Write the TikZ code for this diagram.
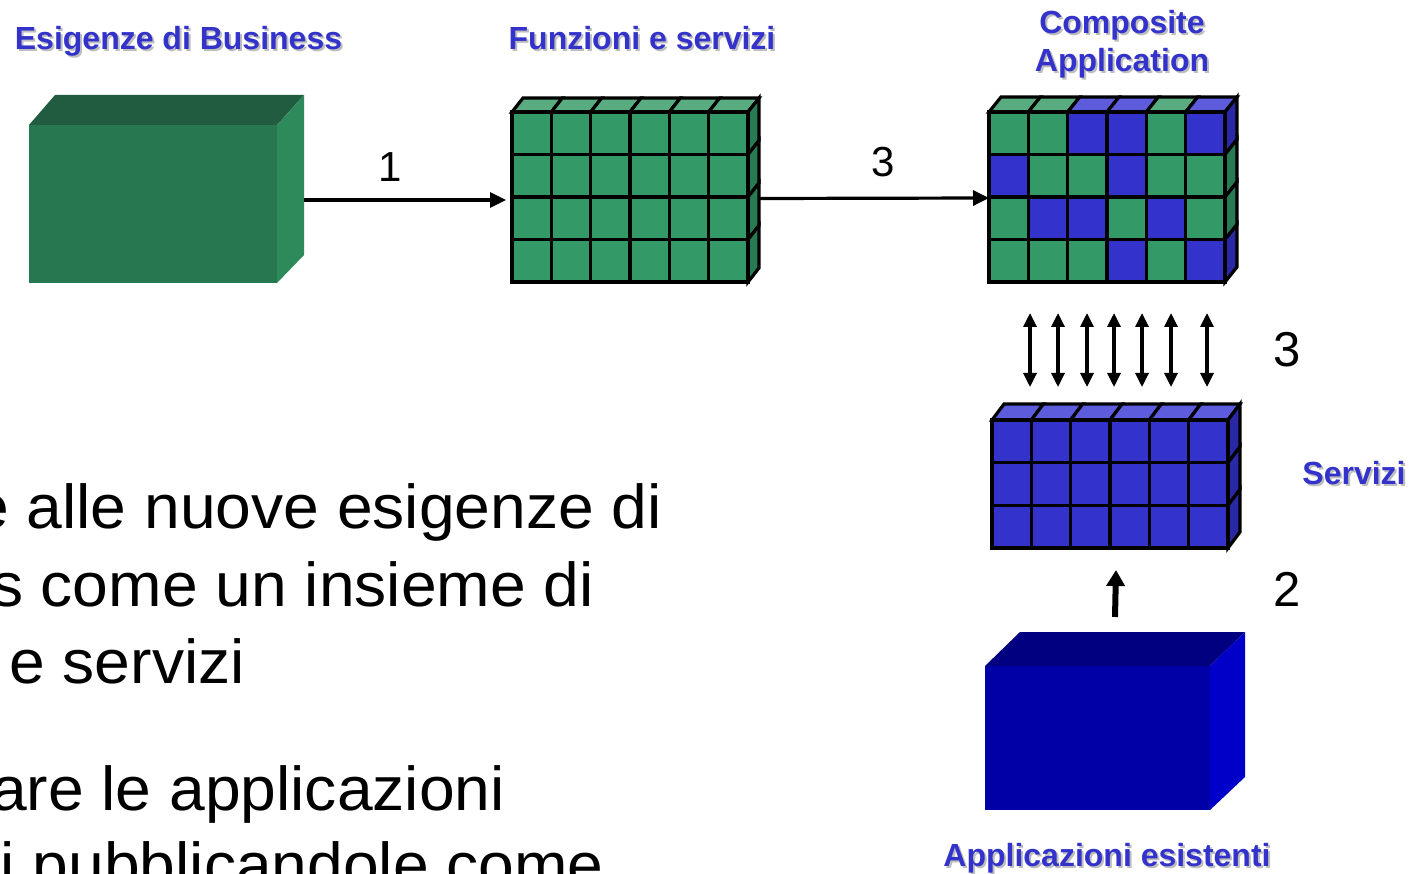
\documentclass[tikz,border=0pt]{standalone}
\usepackage{fontspec}
\setmainfont{Liberation Sans}
\newfontfamily\bodyfont[FakeStretch=1.035]{Liberation Sans}
\usetikzlibrary{arrows.meta}
\definecolor{gfill}{RGB}{51,153,102}
\definecolor{gtop}{RGB}{88,172,128}
\definecolor{gside}{RGB}{41,122,82}
\definecolor{bfill}{RGB}{51,51,204}
\definecolor{btop}{RGB}{92,92,220}
\definecolor{bside}{RGB}{41,41,165}
\definecolor{lbl}{RGB}{51,51,204}
\definecolor{shd}{RGB}{190,190,190}
\definecolor{bizfront}{RGB}{39,119,80}
\definecolor{biztop}{RGB}{33,92,64}
\definecolor{bizside}{RGB}{46,138,91}
\definecolor{appfront}{RGB}{0,0,166}
\definecolor{apptop}{RGB}{0,0,128}
\definecolor{appside}{RGB}{0,0,200}
\tikzset{
  area/.style={inner sep=0pt, outer sep=0pt, draw=none},
  cellline/.style={draw=black, line width=3.2pt, line join=miter},
  lbltxt/.style={inner sep=0pt, anchor=base, text=lbl, font=\fontsize{32}{38}\selectfont\bfseries},
  lblshd/.style={inner sep=0pt, anchor=base, text=shd, font=\fontsize{32}{38}\selectfont\bfseries},
  numtxt/.style={inner sep=0pt, anchor=base, font=\fontsize{42}{50}\selectfont},
  bignum/.style={inner sep=0pt, anchor=base, font=\fontsize{49}{58}\selectfont},
  bodytxt/.style={inner sep=0pt, anchor=base east, font=\bodyfont\fontsize{62}{77}\selectfont},
  harrow/.style={line width=3.2pt, -{Triangle[length=16pt,width=15pt]}},
  darrow/.style={line width=3.2pt, {Triangle[length=14pt,width=13pt]}-{Triangle[length=14pt,width=13pt]}},
  uparrow/.style={line width=6pt, -{Triangle[length=16pt,width=18pt]}}
}
\begin{document}
\begin{tikzpicture}[x=1pt,y=-1pt]
\useasboundingbox (0,0) rectangle (1411,874);
\clip (0,0) rectangle (1411,874);

% ---- block areas (named) ----
\node[area, minimum width=275pt, minimum height=188pt] (biz) at (166.5,189) {};
\node[area, minimum width=247pt, minimum height=184pt] (fun) at (635.5,190) {};
\node[area, minimum width=248pt, minimum height=185pt] (comp) at (1113,189.5) {};
\node[area, minimum width=248pt, minimum height=144pt] (serv) at (1116,476) {};
\node[area, minimum width=260pt, minimum height=178pt] (app) at (1115,721) {};

% ---- Esigenze di Business block ----
\fill[bizfront] (29,125) rectangle (277,283);
\fill[biztop] (29,125) -- (55,95) -- (304,95) -- (277,125) -- cycle;
\fill[bizside] (277,125) -- (304,95) -- (304,255) -- (277,283) -- cycle;

% ---- Applicazioni esistenti block ----
\fill[appfront] (985,666) rectangle (1210,810);
\fill[apptop] (985,666) -- (1020,632) -- (1245,632) -- (1210,666) -- cycle;
\fill[appside] (1210,666) -- (1245,632) -- (1245,777) -- (1210,810) -- cycle;

% ---- Funzioni grid ----
\foreach \c in {0,...,5}{
  \draw[cellline, fill=gtop] (512+\c*39.33,112) -- ++(11,-14) -- ++(39.33,0) -- ++(-11,14) -- cycle;
}
\foreach \r in {0,...,3}{
  \draw[cellline, fill=gside] (748,112+\r*42.5) -- ++(11,-14) -- ++(0,42.5) -- ++(-11,14) -- cycle;
  \foreach \c in {0,...,5}
    \draw[cellline, fill=gfill] (512+\c*39.33,112+\r*42.5) rectangle ++(39.33,42.5);
}

% ---- Composite grid ----
\foreach \col [count=\c from 0] in {gtop,gtop,btop,btop,gtop,btop}{
  \draw[cellline, fill=\col] (989+\c*39.33,112) -- ++(12,-15) -- ++(39.33,0) -- ++(-12,15) -- cycle;
}
\foreach \col [count=\r from 0] in {bside,gside,gside,bside}{
  \draw[cellline, fill=\col] (1225,112+\r*42.5) -- ++(12,-15) -- ++(0,42.5) -- ++(-12,15) -- cycle;
}
\foreach \r/\rowcols in {0/{gfill,gfill,bfill,bfill,gfill,bfill},
                        1/{bfill,gfill,gfill,bfill,gfill,gfill},
                        2/{gfill,bfill,bfill,gfill,bfill,gfill},
                        3/{gfill,gfill,gfill,bfill,gfill,bfill}}{
  \foreach \col [count=\c from 0] in \rowcols
    \draw[cellline, fill=\col] (989+\c*39.33,112+\r*42.5) rectangle ++(39.33,42.5);
}

% ---- Servizi grid ----
\foreach \c in {0,...,5}{
  \draw[cellline, fill=btop] (992+\c*39.33,420) -- ++(12,-16) -- ++(39.33,0) -- ++(-12,16) -- cycle;
}
\foreach \r in {0,...,2}{
  \draw[cellline, fill=bside] (1228,420+\r*42.67) -- ++(12,-16) -- ++(0,42.67) -- ++(-12,16) -- cycle;
  \foreach \c in {0,...,5}
    \draw[cellline, fill=bfill] (992+\c*39.33,420+\r*42.67) rectangle ++(39.33,42.67);
}

% ---- connectors ----
\draw[harrow] ([yshift=-11pt]biz.east) -- ([yshift=-10pt,xshift=-6pt]fun.west);
\draw[harrow] ([yshift=-8.5pt]fun.east) -- ([yshift=-8.5pt]comp.west);
\foreach \x [count=\i] in {1030,1058,1087,1114,1142,1171,1207}{
  \coordinate (dt\i) at (\x,313);
  \coordinate (db\i) at (\x,387);
  \draw[darrow] (dt\i) -- (db\i);
}
\draw[uparrow] ([yshift=15pt]app.north) -- ([yshift=-22pt]serv.south);

% ---- numbers ----
\node[numtxt] (n1) at (390,182) {1};
\node[numtxt] (n3a) at (883,177) {3};
\node[bignum] (n3b) at (1287,367) {3};
\node[bignum] (n2) at (1287,606) {2};

% ---- labels with shadow ----
\node[lblshd] (l1s) at (180.5,52) {Esigenze di Business};
\node[lbltxt] (l1) at (178.5,50) {Esigenze di Business};
\node[lblshd] (l2s) at (644,52) {Funzioni e servizi};
\node[lbltxt] (l2) at (642,50) {Funzioni e servizi};
\node[lblshd] (l3s) at (1124,36) {Composite};
\node[lbltxt] (l3) at (1122,34) {Composite};
\node[lblshd] (l4s) at (1124,74) {Application};
\node[lbltxt] (l4) at (1122,72) {Application};
\node[lblshd] (l5s) at (1356,486) {Servizi};
\node[lbltxt] (l5) at (1354,484) {Servizi};
\node[lblshd] (l6s) at (1109,868) {Applicazioni esistenti};
\node[lbltxt] (l6) at (1107,866) {Applicazioni esistenti};

% ---- body text (cropped slide text) ----
\node[bodytxt] (b1) at (662,528) {e alle nuove esigenze di};
\node[bodytxt] (b2) at (594,606) {s come un insieme di};
\node[bodytxt] (b3) at (245,683) {e servizi};
\node[bodytxt] (b4) at (505,810) {are le applicazioni};
\node[bodytxt] (b5) at (604,886) {i pubblicandole come};
\end{tikzpicture}
\end{document}
